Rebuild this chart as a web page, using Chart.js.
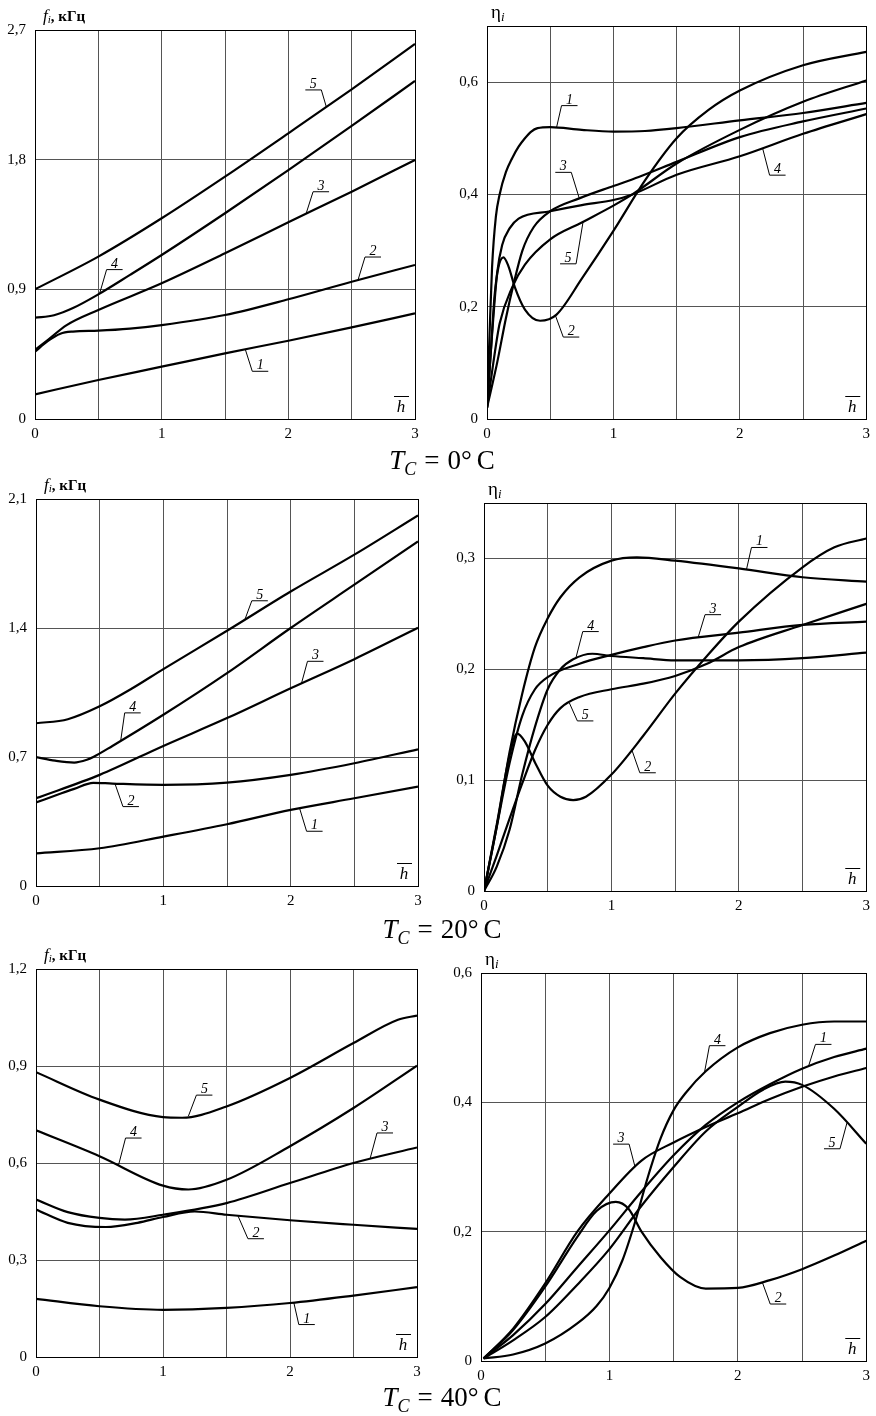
<!DOCTYPE html>
<html>
<head>
<meta charset="utf-8">
<script src="https://cdn.jsdelivr.net/npm/chart.js@4.4.1/dist/chart.umd.min.js"></script>
<style>
  body { margin: 0; background: #fff; width: 876px; height: 1416px; position: relative; overflow: hidden; }
  canvas { position: absolute; }
  .cap { position: absolute; left: 4px; width: 876px; text-align: center; font: 27px 'Liberation Serif', serif; line-height: 28px; color: #000; }
  .cap sub { font-size: 18px; vertical-align: -6px; line-height: 0; }
  .cap .eq { margin: 0 8px; }
  .cap .u { margin-left: 5px; }
</style>
</head>
<body>
<canvas id="p1" width="438" height="445" style="left:0;top:0"></canvas>
<canvas id="p2" width="438" height="445" style="left:438px;top:0"></canvas>
<canvas id="p3" width="438" height="445" style="left:0;top:470px"></canvas>
<canvas id="p4" width="438" height="445" style="left:438px;top:470px"></canvas>
<canvas id="p5" width="438" height="445" style="left:0;top:940px"></canvas>
<canvas id="p6" width="438" height="445" style="left:438px;top:940px"></canvas>
<div class="cap" style="top:446px"><i>T</i><sub><i>C</i></sub><span class="eq">=</span>0°<span class="u">C</span></div>
<div class="cap" style="top:915px"><i>T</i><sub><i>C</i></sub><span class="eq">=</span>20°<span class="u">C</span></div>
<div class="cap" style="top:1383px"><i>T</i><sub><i>C</i></sub><span class="eq">=</span>40°<span class="u">C</span></div>
<script>
// h-bar grid and labels (same for every panel)
const hGrid = [0, 0.5, 1, 1.5, 2, 2.5, 3];
const hLabels = [0, 1, 2, 3];

// T = 0 C, frequency f_i (kHz)
const t0f1 = [[0,0.171],[0.5,0.271],[1,0.363],[1.5,0.456],[2,0.543],[2.5,0.636],[3,0.733]];
const t0f2 = [[0,0.467],[0.1,0.54],[0.2,0.592],[0.3,0.607],[0.5,0.613],[0.75,0.627],[1,0.652],[1.5,0.722],[2,0.831],[2.5,0.953],[3,1.069]];
const t0f3 = [[0,0.479],[0.1,0.548],[0.25,0.652],[0.5,0.757],[1,0.942],[1.5,1.15],[2,1.365],[2.5,1.578],[3,1.798]];
const t0f4 = [[0,0.703],[0.15,0.72],[0.3,0.77],[0.5,0.865],[0.75,1.0],[1,1.138],[1.5,1.428],[2,1.728],[2.5,2.034],[3,2.346]];
const t0f5 = [[0,0.9],[0.5,1.127],[1,1.393],[1.5,1.682],[2,1.983],[2.5,2.288],[3,2.603]];
const t0fTicks = [0, 0.9, 1.8, 2.7];

// T = 0 C, efficiency eta_i
const t0e1 = [[0,0.02],[0.02,0.15],[0.04,0.27],[0.07,0.36],[0.1,0.4],[0.15,0.44],[0.2,0.465],[0.25,0.485],[0.3,0.5],[0.35,0.512],[0.4,0.518],[0.5,0.52],[0.75,0.515],[1,0.512],[1.25,0.513],[1.5,0.518],[2,0.532],[2.5,0.545],[3,0.563]];
const t0e2 = [[0,0.02],[0.03,0.12],[0.06,0.22],[0.09,0.27],[0.13,0.288],[0.17,0.272],[0.22,0.235],[0.3,0.195],[0.42,0.175],[0.55,0.186],[0.75,0.25],[1,0.335],[1.25,0.425],[1.5,0.5],[1.75,0.55],[2,0.585],[2.5,0.63],[3,0.654]];
const t0e3 = [[0,0.02],[0.08,0.1],[0.15,0.18],[0.21,0.24],[0.28,0.3],[0.37,0.342],[0.5,0.37],[0.73,0.393],[1,0.415],[1.2,0.431],[1.5,0.458],[2,0.502],[2.5,0.53],[3,0.553]];
const t0e4 = [[0,0.02],[0.04,0.15],[0.08,0.26],[0.12,0.31],[0.18,0.34],[0.25,0.357],[0.5,0.37],[0.75,0.381],[1,0.39],[1.15,0.4],[1.5,0.435],[2,0.468],[2.5,0.508],[3,0.543]];
const t0e5 = [[0,0.02],[0.05,0.1],[0.1,0.17],[0.2,0.235],[0.3,0.275],[0.5,0.32],[0.75,0.35],[1,0.38],[1.15,0.4],[1.5,0.455],[2,0.515],[2.5,0.565],[3,0.603]];
const t0eTicks = [0, 0.2, 0.4, 0.6];

// T = 20 C, frequency
const t20f1 = [[0,0.177],[0.5,0.205],[1,0.268],[1.5,0.335],[2,0.413],[2.5,0.476],[3,0.539]];
const t20f2 = [[0,0.453],[0.2,0.503],[0.3,0.527],[0.45,0.56],[0.6,0.556],[1,0.549],[1.5,0.561],[2,0.603],[2.5,0.666],[3,0.742]];
const t20f3 = [[0,0.476],[0.5,0.603],[1,0.76],[1.5,0.911],[2,1.073],[2.5,1.231],[3,1.401]];
const t20f4 = [[0,0.699],[0.15,0.68],[0.3,0.67],[0.4,0.685],[0.45,0.7],[0.6,0.76],[1,0.929],[1.5,1.155],[2,1.4],[2.5,1.635],[3,1.87]];
const t20f5 = [[0,0.883],[0.25,0.905],[0.5,0.975],[0.75,1.07],[1,1.177],[1.5,1.385],[2,1.598],[2.5,1.798],[3,2.011]];
const t20fTicks = [0, 0.7, 1.4, 2.1];

// T = 20 C, efficiency
const t20e1 = [[0,0],[0.1,0.058],[0.2,0.125],[0.3,0.178],[0.4,0.22],[0.5,0.246],[0.6,0.265],[0.75,0.283],[1,0.298],[1.2,0.301],[1.5,0.298],[2,0.291],[2.5,0.283],[3,0.279]];
const t20e2 = [[0,0],[0.1,0.06],[0.2,0.122],[0.26,0.142],[0.32,0.135],[0.4,0.116],[0.5,0.095],[0.6,0.085],[0.7,0.082],[0.8,0.085],[1,0.105],[1.25,0.14],[1.5,0.178],[1.75,0.212],[2,0.243],[2.5,0.292],[2.75,0.31],[3,0.318]];
const t20e3 = [[0,0],[0.1,0.058],[0.2,0.115],[0.3,0.158],[0.4,0.182],[0.5,0.193],[0.75,0.205],[1,0.213],[1.25,0.22],[1.5,0.226],[2,0.233],[2.5,0.24],[3,0.243]];
const t20e4 = [[0,0],[0.1,0.022],[0.2,0.055],[0.3,0.105],[0.4,0.148],[0.5,0.182],[0.6,0.2],[0.7,0.209],[0.85,0.214],[1,0.212],[1.25,0.21],[1.5,0.208],[2,0.208],[2.5,0.21],[3,0.215]];
const t20e5 = [[0,0],[0.1,0.032],[0.2,0.065],[0.3,0.097],[0.4,0.127],[0.5,0.15],[0.6,0.165],[0.75,0.175],[1,0.182],[1.25,0.187],[1.5,0.194],[1.75,0.205],[2,0.22],[2.5,0.24],[3,0.259]];
const t20eTicks = [0, 0.1, 0.2, 0.3];

// T = 40 C, frequency
const t40f1 = [[0,0.18],[0.5,0.157],[1,0.146],[1.5,0.152],[2,0.167],[2.5,0.19],[3,0.216]];
const t40f2 = [[0,0.456],[0.25,0.415],[0.55,0.402],[0.8,0.415],[1,0.433],[1.25,0.45],[1.5,0.44],[2,0.423],[2.5,0.409],[3,0.396]];
const t40f3 = [[0,0.487],[0.25,0.448],[0.5,0.43],[0.7,0.425],[1,0.44],[1.5,0.476],[2,0.538],[2.5,0.6],[3,0.648]];
const t40f4 = [[0,0.701],[0.5,0.621],[1,0.53],[1.2,0.518],[1.5,0.548],[2,0.652],[2.5,0.77],[3,0.901]];
const t40f5 = [[0,0.881],[0.5,0.796],[1,0.742],[1.15,0.74],[1.5,0.775],[2,0.863],[2.5,0.971],[2.85,1.043],[3,1.056]];
const t40fTicks = [0, 0.3, 0.6, 0.9, 1.2];

// T = 40 C, efficiency
const t40e1 = [[0.02,0.004],[0.25,0.04],[0.5,0.088],[0.75,0.145],[1,0.202],[1.25,0.262],[1.5,0.318],[1.75,0.365],[2,0.4],[2.25,0.428],[2.5,0.452],[2.75,0.47],[3,0.483]];
const t40e2 = [[0.02,0.004],[0.25,0.048],[0.5,0.115],[0.75,0.192],[0.9,0.232],[1.05,0.246],[1.15,0.235],[1.25,0.2],[1.4,0.16],[1.55,0.13],[1.75,0.112],[2,0.113],[2.25,0.125],[2.5,0.142],[2.75,0.163],[3,0.186]];
const t40e3 = [[0.02,0.004],[0.25,0.05],[0.5,0.12],[0.75,0.2],[1,0.259],[1.25,0.31],[1.5,0.338],[1.75,0.362],[2,0.383],[2.25,0.405],[2.5,0.424],[2.75,0.44],[3,0.453]];
const t40e4 = [[0.02,0.004],[0.25,0.01],[0.5,0.027],[0.75,0.058],[0.9,0.085],[1,0.113],[1.1,0.155],[1.2,0.215],[1.3,0.285],[1.4,0.345],[1.5,0.388],[1.6,0.416],[1.75,0.448],[2,0.485],[2.25,0.507],[2.5,0.52],[2.75,0.525],[3,0.525]];
const t40e5 = [[0.02,0.004],[0.25,0.032],[0.5,0.068],[0.75,0.118],[1,0.173],[1.25,0.24],[1.5,0.3],[1.75,0.355],[2,0.393],[2.2,0.42],[2.37,0.432],[2.5,0.427],[2.75,0.39],[3,0.336]];
const t40eTicks = [0, 0.2, 0.4, 0.6];

// curve number tags: [curve, h on curve, dx, dy to underline end, underline direction]
const t0fTags = [[5,2.30,-5,-17,-1],[4,0.51,7,-24,1],[3,2.14,7,-22,1],[2,2.55,7,-23,1],[1,1.66,7,22,1]];
const t0eTags = [[1,0.55,5,-22,1],[3,0.73,-8,-26,-1],[5,0.76,-7,42,-1],[2,0.54,8,22,1],[4,2.18,7,27,1]];
const t20fTags = [[5,1.64,7,-19,1],[4,0.665,4,-28,1],[3,2.085,6,-22,1],[2,0.62,8,23,1],[1,2.07,7,23,1]];
const t20eTags = [[1,2.06,5,-22,1],[3,1.68,7,-23,1],[4,0.72,7,-27,1],[5,0.67,8,18,1],[2,1.16,8,23,1]];
const t40fTags = [[5,1.2,8,-21,1],[4,0.65,7,-27,1],[3,2.63,7,-26,1],[2,1.59,10,23,1],[1,2.03,5,22,1]];
const t40eTags = [[4,1.74,5,-27,1],[1,2.55,7,-22,1],[5,2.85,-7,26,-1],[3,1.2,-6,-23,-1],[2,2.19,8,22,1]];

const SERIF = "'Liberation Serif', 'Times New Roman', serif";

function valueAt(pts, h) {
  for (let i = 1; i < pts.length; i++) {
    if (h <= pts[i][0]) {
      const [x0, y0] = pts[i - 1], [x1, y1] = pts[i];
      return y0 + (y1 - y0) * (h - x0) / (x1 - x0);
    }
  }
  return pts[pts.length - 1][1];
}

function fmt(v) {
  return v === 0 ? '0' : v.toFixed(1).replace('.', ',');
}

// frame, axis titles and numbered leaders
function decoPlugin(series, tags, kind) {
  return {
    id: 'deco',
    afterDatasetsDraw(chart) {
      const { ctx, chartArea: a, scales: { x, y } } = chart;
      ctx.save();
      ctx.strokeStyle = '#000';
      ctx.lineWidth = 1;
      ctx.strokeRect(Math.round(a.left) + 0.5, Math.round(a.top) + 0.5,
        Math.round(a.right - a.left), Math.round(a.bottom - a.top));

      // curve numbers
      ctx.fillStyle = '#000';
      ctx.font = 'italic 14px ' + SERIF;
      ctx.textAlign = 'center';
      ctx.textBaseline = 'alphabetic';
      tags.forEach(([n, h, dx, dy, dir]) => {
        const px = x.getPixelForValue(h);
        const py = y.getPixelForValue(valueAt(series[n - 1], h));
        const ex = px + dx, ey = py + dy, ux = ex + 16 * dir;
        ctx.beginPath();
        ctx.moveTo(px, py);
        ctx.lineTo(ex, ey);
        ctx.lineTo(ux, ey);
        ctx.stroke();
        ctx.fillText(String(n), (ex + ux) / 2, ey - 2);
      });

      // h with bar
      const hx = a.right - 14, hy = a.bottom - 7;
      ctx.font = 'italic 17px ' + SERIF;
      ctx.fillText('h', hx, hy);
      ctx.beginPath();
      ctx.moveTo(hx - 7, hy - 15.5);
      ctx.lineTo(hx + 8, hy - 15.5);
      ctx.stroke();

      // y title
      ctx.textAlign = 'left';
      if (kind === 'f') {
        let tx = a.left + 8, ty = a.top - 9;
        ctx.font = 'italic 17px ' + SERIF;
        ctx.fillText('f', tx, ty);
        tx += ctx.measureText('f').width;
        ctx.font = 'italic 11px ' + SERIF;
        ctx.fillText('i', tx, ty + 2);
        tx += ctx.measureText('i').width;
        ctx.font = 'bold 15px ' + SERIF;
        ctx.fillText(', кГц', tx, ty);
      } else {
        let tx = a.left + 4, ty = a.top - 8;
        ctx.font = '19px ' + SERIF;
        ctx.fillText('η', tx, ty);
        tx += ctx.measureText('η').width;
        ctx.font = 'italic 13px ' + SERIF;
        ctx.fillText('i', tx, ty + 3);
      }
      ctx.restore();
    }
  };
}

function makePanel(id, series, yMax, yTicks, tags, kind, box) {
  const font = { family: SERIF, size: 15 };
  new Chart(document.getElementById(id), {
    type: 'scatter',
    data: {
      datasets: series.map(pts => ({
        data: pts.map(p => ({ x: p[0], y: p[1] })),
        showLine: true,
        borderColor: '#000',
        borderWidth: 2.2,
        pointRadius: 0,
        cubicInterpolationMode: 'monotone',
        fill: false
      }))
    },
    options: {
      responsive: false,
      animation: false,
      events: [],
      layout: { padding: { left: 0, top: box.top, right: box.right, bottom: 0 } },
      plugins: { legend: { display: false }, tooltip: { enabled: false } },
      scales: {
        x: {
          type: 'linear', min: 0, max: 3,
          afterBuildTicks: s => { s.ticks = hGrid.map(v => ({ value: v })); },
          afterFit: s => { s.height = box.xh; },
          ticks: { callback: v => hLabels.includes(v) ? String(v) : '', font, color: '#000', padding: 6, maxRotation: 0, autoSkip: false },
          grid: { color: '#555', lineWidth: 1, drawTicks: false },
          border: { display: false }
        },
        y: {
          type: 'linear', min: 0, max: yMax,
          afterBuildTicks: s => { s.ticks = yTicks.map(v => ({ value: v })); },
          afterFit: s => { s.width = box.yw; },
          ticks: { callback: v => fmt(v), font, color: '#000', padding: 9, autoSkip: false },
          grid: { color: '#555', lineWidth: 1, drawTicks: false },
          border: { display: false }
        }
      }
    },
    plugins: [decoPlugin(series, tags, kind)]
  });
}

makePanel('p1', [t0f1, t0f2, t0f3, t0f4, t0f5], 2.7, t0fTicks, t0fTags, 'f', { yw: 35, top: 30, right: 23, xh: 26 });
makePanel('p2', [t0e1, t0e2, t0e3, t0e4, t0e5], 0.7, t0eTicks, t0eTags, 'e', { yw: 49, top: 26, right: 5, xh: 26 });
makePanel('p3', [t20f1, t20f2, t20f3, t20f4, t20f5], 2.1, t20fTicks, t20fTags, 'f', { yw: 36, top: 29, right: 20, xh: 29 });
makePanel('p4', [t20e1, t20e2, t20e3, t20e4, t20e5], 0.35, t20eTicks, t20eTags, 'e', { yw: 46, top: 33, right: 8, xh: 24 });
makePanel('p5', [t40f1, t40f2, t40f3, t40f4, t40f5], 1.2, t40fTicks, t40fTags, 'f', { yw: 36, top: 29, right: 21, xh: 28 });
makePanel('p6', [t40e1, t40e2, t40e3, t40e4, t40e5], 0.6, t40eTicks, t40eTags, 'e', { yw: 43, top: 33, right: 4, xh: 24 });
</script>
</body>
</html>
